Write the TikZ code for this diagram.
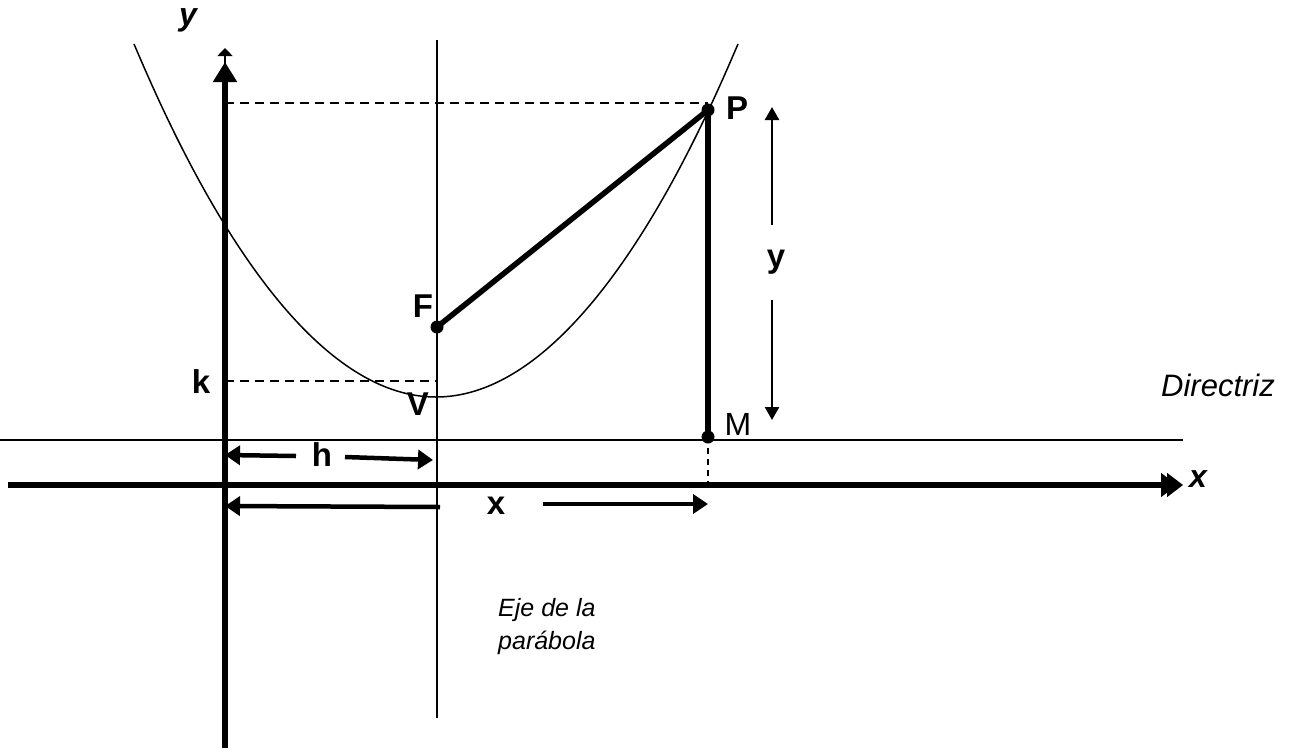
\documentclass[tikz,border=0pt]{standalone}
\usepackage{fontspec}
\setmainfont{Liberation Sans}
\usetikzlibrary{arrows.meta}

\begin{document}
\begin{tikzpicture}[x=1pt, y=-1pt,
        thinline/.style={line width=1.5pt},
        axisline/.style={line width=6pt},
        heavy/.style={line width=5.5pt},
        dimarrow/.style={line width=4.5pt, -{Triangle[length=15pt,width=19pt]}},
        yarrow/.style={line width=2.5pt, -{Triangle[length=13pt,width=14pt]}},
        guide/.style={line width=1.5pt, dash pattern=on 9pt off 6pt},
        dot/.style={circle, fill, inner sep=0pt, minimum size=13pt},
        lbl/.style={inner sep=0pt, font=\fontsize{33}{39}\selectfont\bfseries},
        axlbl/.style={inner sep=0pt, font=\fontsize{32}{38}\selectfont\bfseries\itshape},
        txt/.style={inner sep=0pt, font=\fontsize{31}{37}\selectfont\itshape}]
        \useasboundingbox (0,0) rectangle (1293,753);

        % Punkte
        \coordinate (O) at (225,485);
        \coordinate (V) at (436,397);
        \coordinate (F) at (437,327);
        \coordinate (P) at (708,110);
        \coordinate (M) at (708,437);
        \coordinate (Xend) at (1183,485);
        \coordinate (Yend) at (225,48);

        % Achsen
        \draw[axisline] (8,485) -- (1165,485);
        \draw[thinline, -{Triangle[length=16pt,width=24pt]}] (1160,485) -- (Xend);
        \draw[thinline, -{Triangle[length=16pt,width=24pt]}] (1150,485) -- (1177,485);
        \draw[axisline, -{Triangle[length=20pt,width=23pt]}] (225,748) -- (225,62);
        \draw[thinline, -{Triangle[length=8pt,width=15pt]}] (225,64) -- (Yend);
        \node[axlbl] (ylabel) at (188,20) {y};
        \node[axlbl] (xlabel) at (1198,479) {x};

        % Achse der Parabel und Leitlinie
        \draw[thinline] (437,40) -- (437,718);
        \draw[thinline] (0,440) -- (1183,440);

        % Parabel
        \draw[thinline] (134,44) parabola bend (V) (738,44);

        % Gestrichelte Linien
        \draw[guide] (225,103) -- (P |- 0,103);
        \draw[guide] (225,381) -- (437,381);
        \draw[guide, dash pattern=on 6pt off 5pt] (M) -- (M |- O);

        % Strecken FP und PM
        \draw[heavy] (F) -- (P);
        \draw[heavy] (P) -- (M);
        \node[dot] (Fdot) at (F) {};
        \node[dot] (Pdot) at (P) {};
        \node[dot] (Mdot) at (M) {};

        % Beschriftungen
        \node[lbl] (Plbl) at (737,108) {P};
        \node[inner sep=0pt, font=\fontsize{32}{38}\selectfont] (Mlbl) at (738,424) {M};
        \node[lbl] (Flbl) at (423,306) {F};
        \node[lbl] (Vlbl) at (418,404) {V};
        \node[lbl] (klbl) at (201,382) {k};
        \node[lbl] (hlbl) at (322,455) {h};
        \node[lbl] (xlbl) at (496,506) {x};
        \node[lbl] (ylbl) at (776,262) {y};
        \node[txt] (directriz) at (1218,385) {Directriz};
        \node[txt, font=\fontsize{25}{33}\selectfont\itshape, align=left, anchor=north west]
            (eje) at (498,598) {Eje de la\\parábola};

        % Pfeile h, x, y
        \draw[dimarrow] (296,456) -- (hlbl -| O);
        \draw[dimarrow] (345,457) -- (433,460);
        \draw[dimarrow] (440,507) -- (O |- xlbl);
        \draw[dimarrow] (543,504) -- (M |- 0,504);
        \draw[yarrow] (772,225) -- (772,107);
        \draw[yarrow] (772,300) -- (772,420);

    \end{tikzpicture}
\end{document}
